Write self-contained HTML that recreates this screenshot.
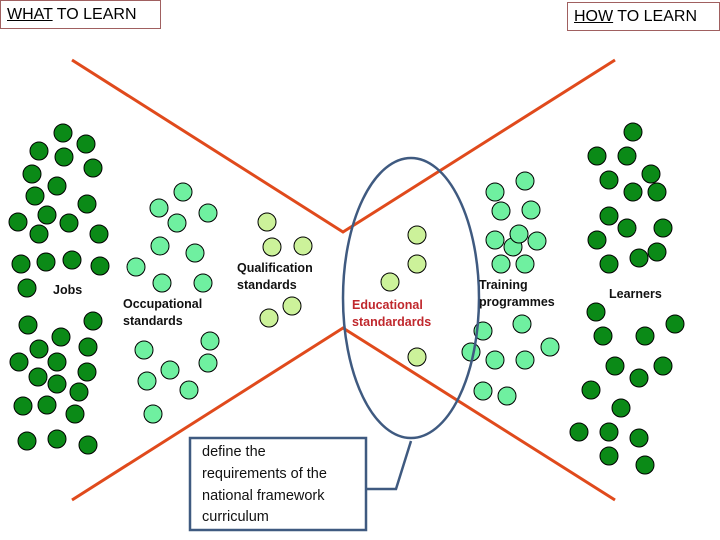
<!DOCTYPE html>
<html><head><meta charset="utf-8"><style>
html,body{margin:0;padding:0;background:#fff;}
body{width:720px;height:540px;position:relative;overflow:hidden;font-family:"Liberation Sans",sans-serif;}
.hb{position:absolute;border:1px solid #a06060;background:#fff;font-size:16px;color:#000;line-height:28px;padding:0 6px;box-sizing:border-box;}
.lb{position:absolute;font-weight:bold;font-size:12.5px;line-height:17px;color:#111;}
svg{position:absolute;left:0;top:0;}
</style></head><body>
<svg width="720" height="540">
<g stroke="#e04a1c" stroke-width="3" fill="none">
<polyline points="72,60 343,232 615,60"/>
<polyline points="72,500 343,328 615,500"/>
</g>
<g stroke="#000" stroke-width="1" fill="#0b8a17">
<circle cx="63" cy="133" r="9"/><circle cx="39" cy="151" r="9"/><circle cx="86" cy="144" r="9"/><circle cx="64" cy="157" r="9"/><circle cx="32" cy="174" r="9"/><circle cx="93" cy="168" r="9"/><circle cx="57" cy="186" r="9"/><circle cx="35" cy="196" r="9"/><circle cx="87" cy="204" r="9"/><circle cx="18" cy="222" r="9"/><circle cx="47" cy="215" r="9"/><circle cx="69" cy="223" r="9"/><circle cx="39" cy="234" r="9"/><circle cx="99" cy="234" r="9"/><circle cx="21" cy="264" r="9"/><circle cx="46" cy="262" r="9"/><circle cx="72" cy="260" r="9"/><circle cx="100" cy="266" r="9"/><circle cx="27" cy="288" r="9"/><circle cx="28" cy="325" r="9"/><circle cx="93" cy="321" r="9"/><circle cx="61" cy="337" r="9"/><circle cx="39" cy="349" r="9"/><circle cx="88" cy="347" r="9"/><circle cx="19" cy="362" r="9"/><circle cx="57" cy="362" r="9"/><circle cx="38" cy="377" r="9"/><circle cx="87" cy="372" r="9"/><circle cx="57" cy="384" r="9"/><circle cx="79" cy="392" r="9"/><circle cx="23" cy="406" r="9"/><circle cx="47" cy="405" r="9"/><circle cx="75" cy="414" r="9"/><circle cx="27" cy="441" r="9"/><circle cx="57" cy="439" r="9"/><circle cx="88" cy="445" r="9"/>
<circle cx="633" cy="132" r="9"/><circle cx="597" cy="156" r="9"/><circle cx="627" cy="156" r="9"/><circle cx="609" cy="180" r="9"/><circle cx="651" cy="174" r="9"/><circle cx="633" cy="192" r="9"/><circle cx="657" cy="192" r="9"/><circle cx="609" cy="216" r="9"/><circle cx="627" cy="228" r="9"/><circle cx="663" cy="228" r="9"/><circle cx="597" cy="240" r="9"/><circle cx="657" cy="252" r="9"/><circle cx="639" cy="258" r="9"/><circle cx="609" cy="264" r="9"/><circle cx="596" cy="312" r="9"/><circle cx="603" cy="336" r="9"/><circle cx="645" cy="336" r="9"/><circle cx="675" cy="324" r="9"/><circle cx="615" cy="366" r="9"/><circle cx="663" cy="366" r="9"/><circle cx="639" cy="378" r="9"/><circle cx="591" cy="390" r="9"/><circle cx="621" cy="408" r="9"/><circle cx="579" cy="432" r="9"/><circle cx="609" cy="432" r="9"/><circle cx="639" cy="438" r="9"/><circle cx="609" cy="456" r="9"/><circle cx="645" cy="465" r="9"/>
</g>
<g stroke="#000" stroke-width="1" fill="#6ff0a0">
<circle cx="183" cy="192" r="9"/><circle cx="159" cy="208" r="9"/><circle cx="208" cy="213" r="9"/><circle cx="177" cy="223" r="9"/><circle cx="160" cy="246" r="9"/><circle cx="195" cy="253" r="9"/><circle cx="136" cy="267" r="9"/><circle cx="162" cy="283" r="9"/><circle cx="203" cy="283" r="9"/><circle cx="144" cy="350" r="9"/><circle cx="210" cy="341" r="9"/><circle cx="170" cy="370" r="9"/><circle cx="208" cy="363" r="9"/><circle cx="147" cy="381" r="9"/><circle cx="189" cy="390" r="9"/><circle cx="153" cy="414" r="9"/>
<circle cx="525" cy="181" r="9"/><circle cx="495" cy="192" r="9"/><circle cx="501" cy="211" r="9"/><circle cx="531" cy="210" r="9"/><circle cx="495" cy="240" r="9"/><circle cx="513" cy="247" r="9"/><circle cx="519" cy="234" r="9"/><circle cx="537" cy="241" r="9"/><circle cx="501" cy="264" r="9"/><circle cx="525" cy="264" r="9"/><circle cx="483" cy="331" r="9"/><circle cx="522" cy="324" r="9"/><circle cx="471" cy="352" r="9"/><circle cx="550" cy="347" r="9"/><circle cx="495" cy="360" r="9"/><circle cx="525" cy="360" r="9"/><circle cx="483" cy="391" r="9"/><circle cx="507" cy="396" r="9"/>
</g>
<g stroke="#000" stroke-width="1" fill="#ccf29a">
<circle cx="267" cy="222" r="9"/><circle cx="272" cy="247" r="9"/><circle cx="303" cy="246" r="9"/><circle cx="292" cy="306" r="9"/><circle cx="269" cy="318" r="9"/><circle cx="417" cy="235" r="9"/><circle cx="417" cy="264" r="9"/><circle cx="390" cy="282" r="9"/><circle cx="417" cy="357" r="9"/>
</g>
<ellipse cx="411" cy="298" rx="68" ry="140" fill="none" stroke="#3f5a80" stroke-width="2.5"/>
<rect x="190" y="438" width="176" height="92" fill="#fff" stroke="#3f5a80" stroke-width="2.5"/>
<polyline points="366,489 396,489 411,441" fill="none" stroke="#3f5a80" stroke-width="2.5"/>
<text font-family="Liberation Sans, sans-serif" font-size="14.5" fill="#111">
<tspan x="202" y="456">define the</tspan>
<tspan x="202" y="478">requirements of the</tspan>
<tspan x="202" y="500">national framework</tspan>
<tspan x="202" y="521">curriculum</tspan>
</text>
</svg>
<div class="hb" style="left:0;top:0;width:161px;height:29px;"><u>WHAT</u> TO LEARN</div>
<div class="hb" style="left:567px;top:2px;width:153px;height:29px;"><u>HOW</u> TO LEARN</div>
<div class="lb" style="left:53px;top:282px;">Jobs</div>
<div class="lb" style="left:123px;top:296px;">Occupational<br>standards</div>
<div class="lb" style="left:237px;top:260px;">Qualification<br>standards</div>
<div class="lb" style="left:352px;top:297px;color:#c0282d;">Educational<br>standardards</div>
<div class="lb" style="left:479px;top:277px;">Training<br>programmes</div>
<div class="lb" style="left:609px;top:286px;">Learners</div>
</body></html>
